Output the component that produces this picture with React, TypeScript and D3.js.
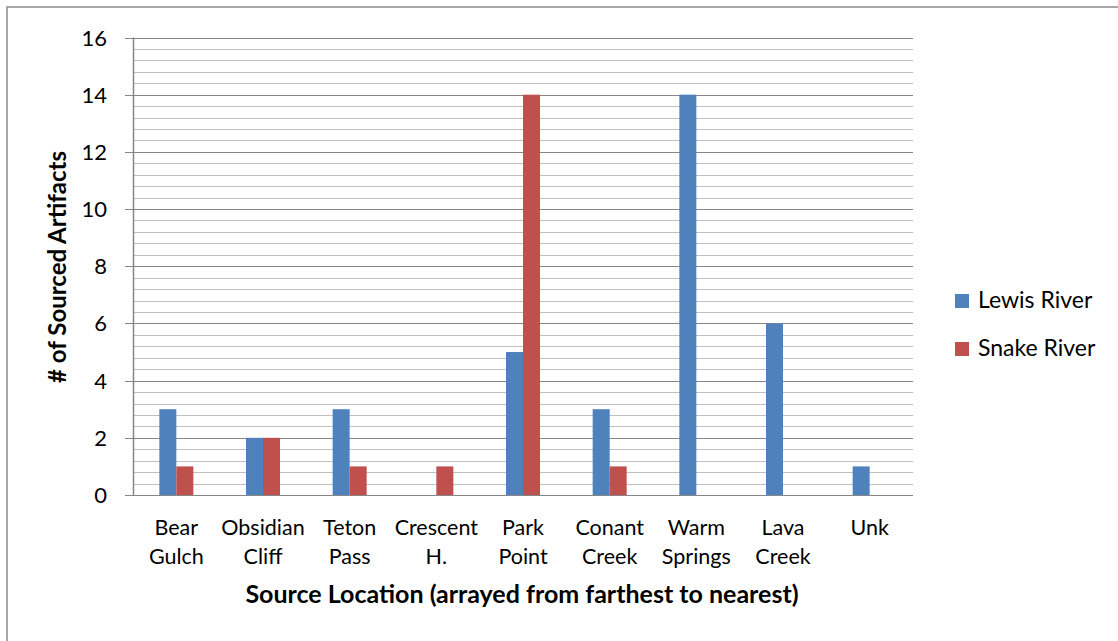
import * as d3 from "d3";
import { useEffect, useRef } from "react";

const categories = [
  ["Bear", "Gulch"],
  ["Obsidian", "Cliff"],
  ["Teton", "Pass"],
  ["Crescent", "H."],
  ["Park", "Point"],
  ["Conant", "Creek"],
  ["Warm", "Springs"],
  ["Lava", "Creek"],
  ["Unk"],
];
const lewisRiver = [3, 2, 3, 0, 5, 3, 14, 6, 1];
const snakeRiver = [1, 2, 1, 1, 14, 1, 0, 0, 0];
const seriesNames = ["Lewis River", "Snake River"];
const colors = ["#4F81BD", "#C0504D"];
const yTicks = [0, 2, 4, 6, 8, 10, 12, 14, 16];

const App = () => {
  const ref = useRef<SVGSVGElement | null>(null);

  useEffect(() => {
    const width = 1118, height = 641;
    const margin = { top: 37.5, left: 133, right: 205, bottom: 146 };
    const svg = d3.select(ref.current);
    svg.selectAll("*").remove();
    const font = "Lato, 'Open Sans', sans-serif";

    svg.append("rect")
      .attr("x", 7).attr("y", 7)
      .attr("width", width + 20).attr("height", height + 20)
      .attr("fill", "white")
      .attr("stroke", "#8c8c8c")
      .attr("stroke-width", 1.5);

    const x = d3.scaleBand<number>()
      .domain(d3.range(categories.length))
      .range([margin.left, width - margin.right]);
    const y = d3.scaleLinear()
      .domain([0, 16])
      .range([height - margin.bottom, margin.top]);

    // minor grid every 0.4
    const minor = d3.range(0, 16.01, 0.4).filter((v) => Math.abs(v / 2 - Math.round(v / 2)) > 0.01);
    svg.append("g").selectAll("line")
      .data(minor)
      .enter()
      .append("line")
      .attr("x1", margin.left).attr("x2", width - margin.right)
      .attr("y1", (d) => Math.round(y(d)) + 0.5)
      .attr("y2", (d) => Math.round(y(d)) + 0.5)
      .attr("stroke", "#c0c0c0")
      .attr("stroke-width", 1.2);

    svg.append("g").selectAll("line")
      .data(yTicks)
      .enter()
      .append("line")
      .attr("x1", margin.left - 8).attr("x2", width - margin.right)
      .attr("y1", (d) => Math.round(y(d)) + 0.5)
      .attr("y2", (d) => Math.round(y(d)) + 0.5)
      .attr("stroke", "#868686")
      .attr("stroke-width", 1.2);

    svg.append("line")
      .attr("x1", margin.left + 0.5).attr("x2", margin.left + 0.5)
      .attr("y1", y(16)).attr("y2", y(0))
      .attr("stroke", "#868686")
      .attr("stroke-width", 1.5);

    svg.append("g").selectAll("text")
      .data(yTicks)
      .enter()
      .append("text")
      .attr("x", 107)
      .attr("y", (d) => y(d) + 8)
      .attr("text-anchor", "end")
      .style("font-family", font)
      .style("font-size", "22px")
      .attr("fill", "#000")
      .text((d) => d);

    const barW = 17;
    const series = [lewisRiver, snakeRiver];
    series.forEach((vals, si) => {
      svg.append("g").selectAll("rect")
        .data(vals)
        .enter()
        .append("rect")
        .attr("x", (d, i) => x(i)! + x.bandwidth() / 2 - barW + si * barW)
        .attr("y", (d) => y(d))
        .attr("width", barW)
        .attr("height", (d) => y(0) - y(d))
        .attr("fill", colors[si]);
    });

    // x labels
    const xl = svg.append("g").selectAll("text")
      .data(categories)
      .enter()
      .append("text")
      .attr("text-anchor", "middle")
      .style("font-family", font)
      .style("font-size", "21.5px")
      .attr("fill", "#000");
    xl.each(function (d, i) {
      const t = d3.select(this);
      d.forEach((line, li) => {
        t.append("tspan")
          .attr("x", x(i)! + x.bandwidth() / 2)
          .attr("y", 535 + li * 29)
          .text(line);
      });
    });

    svg.append("text")
      .attr("x", 522).attr("y", 603)
      .attr("text-anchor", "middle")
      .style("font-family", font)
      .style("font-size", "25px")
      .style("font-weight", "bold")
      .text("Source Location (arrayed from farthest to nearest)");

    svg.append("text")
      .attr("transform", "translate(66,267) rotate(-90)")
      .attr("text-anchor", "middle")
      .style("font-family", font)
      .style("font-size", "24px")
      .style("font-weight", "bold")
      .text("# of Sourced Artifacts");

    const legend = svg.append("g").selectAll("g")
      .data(seriesNames)
      .enter()
      .append("g")
      .attr("transform", (d, i) => "translate(955," + (294 + i * 48) + ")");
    legend.append("rect")
      .attr("width", 14).attr("height", 14)
      .attr("fill", (d, i) => colors[i]);
    legend.append("text")
      .attr("x", 23).attr("y", 14)
      .style("font-family", font)
      .style("font-size", "23px")
      .text((d) => d);
  }, []);

  return (
    <svg ref={ref} width={1118} height={641}
      style={{ position: "absolute", left: 0, top: 0 }} />
  );
};

export default App;
